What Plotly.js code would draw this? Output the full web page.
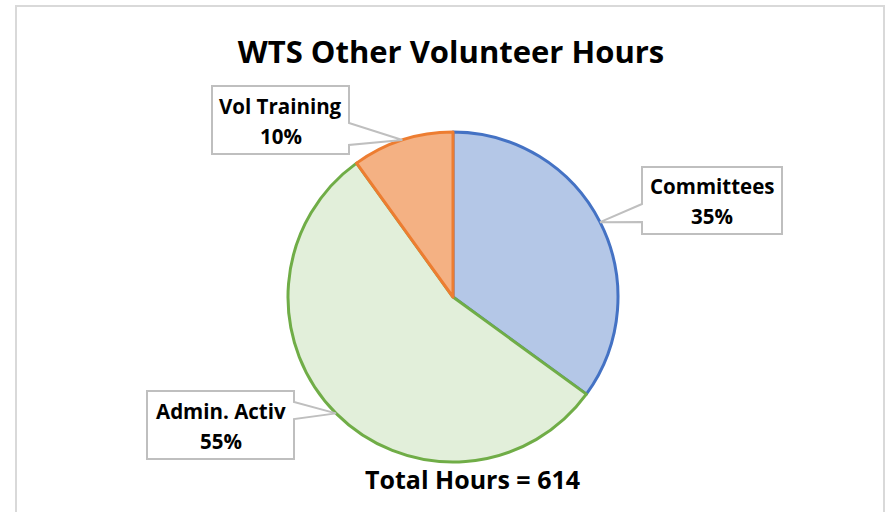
<!DOCTYPE html>
<html>
<head>
<meta charset="utf-8">
<script src="https://cdn.plot.ly/plotly-3.0.1.min.js"></script>
<style>html,body{margin:0;padding:0;background:#fff;}#chart{width:888px;height:512px;}</style>
</head>
<body>
<div id="chart"></div>
<script>
// ---- data ----
const categories = ["Committees", "Admin. Activ", "Vol Training"];
const hours = [215, 338, 61];
const fillColors = ["#B4C7E7", "#E2EFDA", "#F4B183"];
const lineColors = ["#4472C4", "#70AD47", "#ED7D31"];
const chartTitle = "WTS Other Volunteer Hours";

// ---- layout constants ----
const W = 888, H = 512;
const cx = 453, cy = 297, R = 165;          // pie centre / radius in px
const FONT = "'Open Sans', Lato, sans-serif";
// callout boxes: [left, top, right, bottom, side, tailTop, tailBottom]
const boxes = {
  "Committees":   [642, 167, 782, 234, "left", 204, 222],
  "Admin. Activ": [147, 391, 294, 459, "right", 402, 419],
  "Vol Training": [212, 86, 349, 154, "right", 123, 145]
};

const total = hours.reduce((a, b) => a + b, 0);
const px = x => x / W;
const py = y => 1 - y / H;

const shapes = [{
  type: "rect", xref: "paper", yref: "paper",
  x0: px(16), x1: px(884), y0: py(530), y1: py(6),
  line: {color: "#D9D9D9", width: 2}, fillcolor: "rgba(0,0,0,0)", layer: "below"
}];
const annotations = [];

let cum = 0;
categories.forEach((c, i) => {
  const frac = hours[i] / total;
  const mid = (cum + frac / 2) * 2 * Math.PI;   // clockwise from 12 o'clock
  cum += frac;
  const tx = cx + R * Math.sin(mid), ty = cy - R * Math.cos(mid);
  const [l, t, r, b, side, t1, t2] = boxes[c];
  let pts;
  if (side === "right") {
    pts = [[l, t], [r, t], [r, t1], [tx, ty], [r, t2], [r, b], [l, b]];
  } else {
    pts = [[l, t], [r, t], [r, b], [l, b], [l, t2], [tx, ty], [l, t1]];
  }
  const path = "M " + pts.map(p => px(p[0]).toFixed(5) + "," + py(p[1]).toFixed(5)).join(" L ") + " Z";
  shapes.push({type: "path", xref: "paper", yref: "paper", path: path,
    fillcolor: "#FFFFFF", line: {color: "#BFBFBF", width: 2}, layer: "above"});
  const mx = (l + r) / 2, my = (t + b) / 2;
  annotations.push({xref: "paper", yref: "paper", x: px(mx), y: py(my - 14.5),
    text: c, showarrow: false, xanchor: "center", yanchor: "middle",
    font: {family: FONT, size: 20.5, color: "#000", weight: 700}});
  annotations.push({xref: "paper", yref: "paper", x: px(mx), y: py(my + 15.5),
    text: Math.round(frac * 100) + "%", showarrow: false, xanchor: "center", yanchor: "middle",
    font: {family: FONT, size: 20.5, color: "#000", weight: 700}});
});

annotations.push({xref: "paper", yref: "paper", x: px(472), y: py(479),
  text: "Total Hours = " + total, showarrow: false, xanchor: "center", yanchor: "middle",
  font: {family: FONT, size: 25, color: "#000", weight: 700}});

const data = [{
  type: "pie",
  labels: categories,
  values: hours,
  sort: false,
  direction: "clockwise",
  rotation: 0,
  textinfo: "none",
  hoverinfo: "label+percent",
  marker: {colors: fillColors, line: {color: lineColors, width: 3}},
  domain: {x: [px(cx - R), px(cx + R)], y: [py(cy + R), py(cy - R)]},
  showlegend: false
}];

const layout = {
  width: W, height: H,
  margin: {l: 0, r: 0, t: 0, b: 0},
  paper_bgcolor: "#FFFFFF",
  title: {text: chartTitle, x: px(451), xanchor: "center", y: py(52), yanchor: "middle",
    font: {family: FONT, size: 31, color: "#000", weight: 700}},
  shapes: shapes,
  annotations: annotations,
  showlegend: false
};

Plotly.newPlot("chart", data, layout, {displayModeBar: false, staticPlot: true});
</script>
</body>
</html>
